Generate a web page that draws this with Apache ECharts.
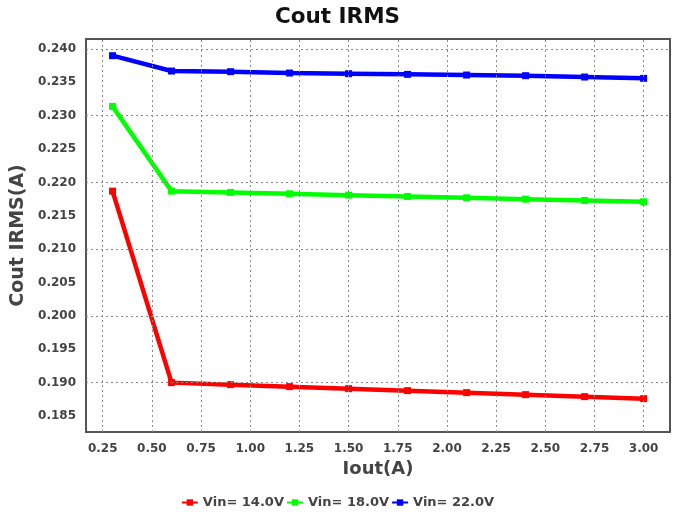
<!DOCTYPE html>
<html><head><meta charset="utf-8">
<script src="https://cdn.jsdelivr.net/npm/echarts@6/dist/echarts.min.js"></script>
<style>html,body{margin:0;padding:0;background:#fff}#c{width:675px;height:512px}</style>
</head><body><div id="c"></div>
<script>
const iout = [0.3, 0.6, 0.9, 1.2, 1.5, 1.8, 2.1, 2.4, 2.7, 3.0];
const vin14 = [0.2187, 0.1900, 0.1897, 0.1894, 0.1891, 0.1888, 0.1885, 0.1882, 0.1879, 0.1876];
const vin18 = [0.2314, 0.2187, 0.2185, 0.2183, 0.2181, 0.2179, 0.2177, 0.2175, 0.2173, 0.2171];
const vin22 = [0.2390, 0.2367, 0.2366, 0.2364, 0.2363, 0.2362, 0.2361, 0.2360, 0.2358, 0.2356];
const xTicks = [0.25, 0.5, 0.75, 1.0, 1.25, 1.5, 1.75, 2.0, 2.25, 2.5, 2.75, 3.0];
const yTicks = [0.185, 0.19, 0.195, 0.2, 0.205, 0.21, 0.215, 0.22, 0.225, 0.23, 0.235, 0.24];
const names = ['Vin= 14.0V', 'Vin= 18.0V', 'Vin= 22.0V'];
const colors = ['#ff0000', '#00ff00', '#0000ff'];

const font = '"DejaVu Sans", Verdana, sans-serif';
const chart = echarts.init(document.getElementById('c'));
function mk(name, vals, color) {
  return {
    name, type: 'line', data: iout.map((x, i) => [x, vals[i]]),
    symbol: 'rect', symbolSize: 7, showSymbol: true,
    lineStyle: { width: 4.5, color }, itemStyle: { color }, z: 3
  };
}
const grid = { type: [2, 3], color: '#8a8a8a', width: 1 };
chart.setOption({
  animation: false,
  title: { text: 'Cout IRMS', left: 'center', top: 1,
    textStyle: { fontFamily: font, fontWeight: 'bold', fontSize: 21.5, color: '#111' } },
  legend: { bottom: -2, left: 'center', itemWidth: 16, itemHeight: 8, itemGap: 2,
    textStyle: { fontFamily: font, fontWeight: 'bold', fontSize: 13, color: '#444' },
    data: names },
  grid: { left: 86, right: 5, top: 39, bottom: 80, show: true, borderColor: '#555', borderWidth: 2 },
  xAxis: { type: 'value', min: 0.165, max: 3.134,
    name: 'Iout(A)', nameLocation: 'middle', nameGap: 26,
    nameTextStyle: { fontFamily: font, fontWeight: 'bold', fontSize: 18, color: '#444' },
    axisLine: { show: true, lineStyle: { color: '#555', width: 2 } },
    axisTick: { show: false },
    splitLine: { show: false },
    axisLabel: { customValues: xTicks, margin: 11, fontFamily: font, fontWeight: 'bold', fontSize: 12, color: '#444',
      formatter: v => v.toFixed(2) } },
  yAxis: { type: 'value', min: 0.1826, max: 0.2415,
    name: 'Cout IRMS(A)', nameLocation: 'middle', nameGap: 55, nameRotate: 90,
    nameTextStyle: { fontFamily: font, fontWeight: 'bold', fontSize: 19, color: '#444' },
    axisLine: { show: true, lineStyle: { color: '#555', width: 2 } },
    axisTick: { show: false },
    splitLine: { show: false },
    axisLabel: { customValues: yTicks, margin: 10, fontFamily: font, fontWeight: 'bold', fontSize: 12, color: '#444',
      formatter: v => v.toFixed(3) } },
  series: [
    { type: 'line', data: [], z: 1, silent: true,
      markLine: { silent: true, symbol: 'none', label: { show: false }, lineStyle: grid, animation: false,
        data: xTicks.map(v => ({ xAxis: v })).concat(yTicks.map(v => ({ yAxis: v }))) } },
    mk(names[0], vin14, colors[0]),
    mk(names[1], vin18, colors[1]),
    mk(names[2], vin22, colors[2])
  ]
});
</script></body></html>
